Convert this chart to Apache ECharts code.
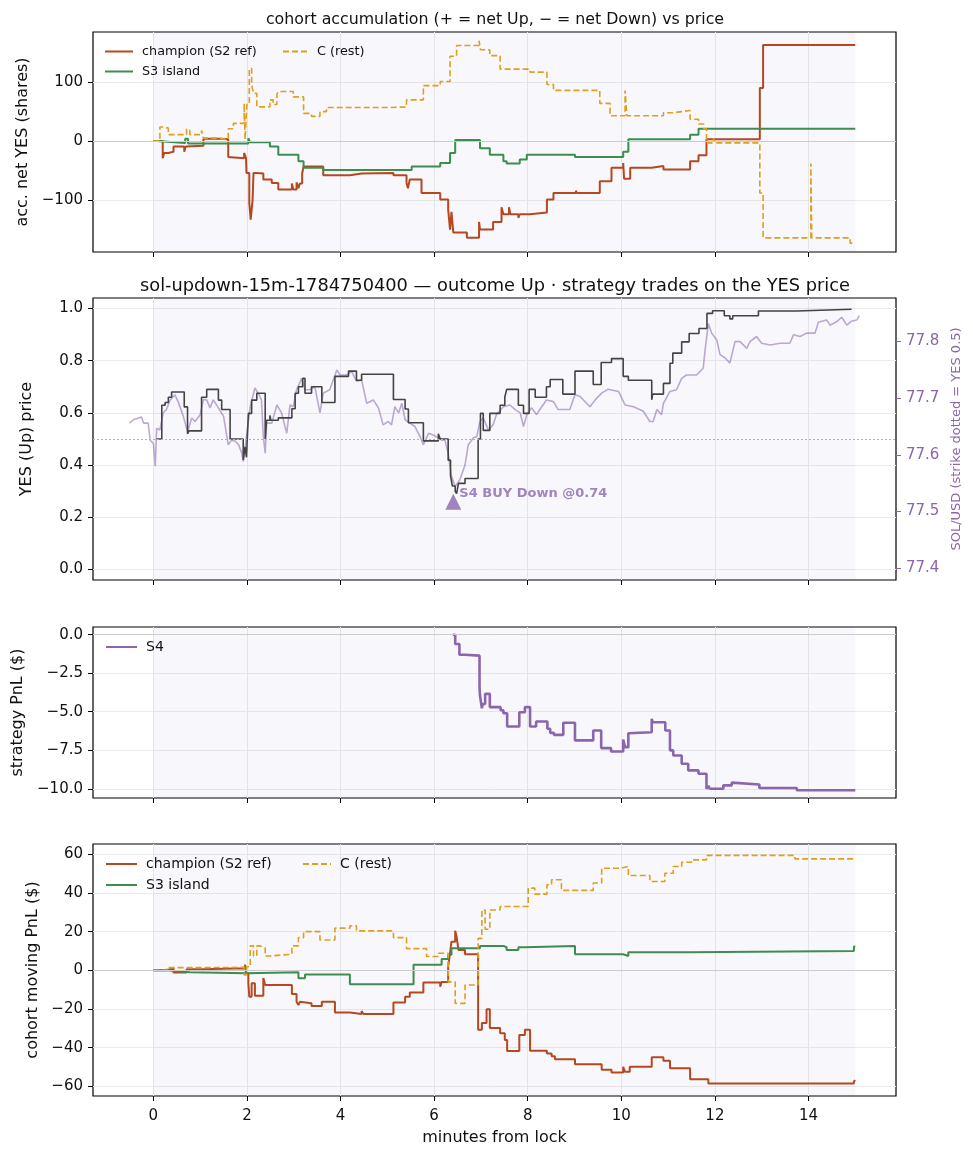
<!DOCTYPE html>
<html>
<head>
<meta charset="utf-8">
<script src="https://cdn.jsdelivr.net/npm/echarts@6/dist/echarts.min.js"></script>
<style>
  html, body { margin: 0; padding: 0; background: #fff; }
  #main { width: 973px; height: 1156px; }
</style>
</head>
<body>
<div id="main"></div>
<script>
// ticks
const xTicks = [0, 2, 4, 6, 8, 10, 12, 14]
const accTicks = [-100, 0, 100]
const yesTicks = [0, 0.2, 0.4, 0.6, 0.8, 1.0]
const solTicks = [77.4, 77.5, 77.6, 77.7, 77.8]
const pnlTicks = [0, -2.5, -5, -7.5, -10]
const cohortTicks = [-60, -40, -20, 0, 20, 40, 60]

// panel 1: accumulated net YES shares, [minutes, shares]
const champAcc = [[0,0],[0.2,-29],[0.23,-20],[0.32,-18],[0.43,-9],[0.66,-18],[0.69,-9],[0.71,-8],[1.07,4],[1.46,3],[1.6,-27],[1.64,-29],
  [1.94,-20],[1.98,-29],[1.99,-54],[2.05,-105],[2.08,-133],[2.12,-100],[2.14,-54],[2.21,-55],[2.35,-65],[2.53,-71],[2.67,-82],
  [2.96,-72],[2.99,-82],[3.06,-70],[3.1,-80],[3.13,-72],[3.18,-55],[3.21,-43],[3.63,-58],[4.2,-55],[4.45,-54],[5.13,-58],
  [5.41,-71],[5.44,-80],[5.48,-65],[5.73,-88],[6.13,-99],[6.3,-116],[6.34,-150],[6.37,-120],[6.41,-155],[6.7,-164],[6.96,-137],
  [6.98,-150],[7.26,-137],[7.44,-112],[7.48,-124],[7.6,-112],[7.63,-124],[7.8,-130],[7.83,-124],[8.05,-121],[8.41,-99],[8.55,-88],
  [9.03,-84],[9.05,-88],[9.54,-68],[9.79,-45],[10.04,-37],[10.06,-64],[10.19,-45],[10.65,-42],[10.9,-48],[11.47,-34],[11.65,-24],
  [11.82,3],[12.96,90],[13.03,163],[15.0,163]]
const s3Acc = [[0,0],[0.07,-3],[0.68,4],[0.74,-4],[2.03,5],[2.07,-2],[2.49,-9],[2.67,-23],[3.1,-34],[3.21,-45],[3.63,-49],[5.52,-43],
  [6.13,-37],[6.34,-20],[6.45,2],[6.98,-12],[7.19,-23],[7.48,-34],[7.55,-38],[7.83,-31],[7.98,-23],[9.01,-27],[10.04,-18],[10.15,3],
  [11.47,11],[11.65,21],[15.0,21]]
const restAcc = [[0,0],[0.14,24],[0.21,22],[0.32,11],[0.71,20],[0.78,11],[1.03,18],[1.07,5],[1.35,3],[1.6,21],[1.71,30],[1.94,64],
  [1.96,3],[2.0,64],[2.05,123],[2.1,95],[2.14,81],[2.21,58],[2.49,70],[2.56,62],[2.64,80],[2.67,84],[2.99,75],[3.21,47],[3.38,42],
  [3.56,50],[3.7,57],[5.06,58],[5.41,70],[5.77,94],[6.13,101],[6.34,144],[6.48,162],[6.96,170],[6.99,155],[7.19,145],[7.41,122],
  [8.05,117],[8.41,96],[8.55,86],[9.54,64],[9.76,43],[10.08,86],[10.12,43],[10.9,48],[11.11,50],[11.29,52],[11.47,37],[11.65,29],
  [11.76,21],[11.82,-3],[11.97,5],[12.0,-3],[12.96,-88],[13.03,-164],[14.05,-38],[14.07,-164],[14.89,-173],[15.0,-173]]

// panel 2: YES (Up) price and SOL/USD
const yesPrice = [[0.07,0.5],[0.18,0.629],[0.25,0.64],[0.32,0.66],[0.39,0.68],[0.66,0.623],[0.73,0.52],[0.76,0.531],[1.03,0.66],
  [1.14,0.69],[1.39,0.649],[1.46,0.613],[1.64,0.5],[1.92,0.42],[1.96,0.47],[1.99,0.43],[2.03,0.598],[2.1,0.649],[2.21,0.675],
  [2.39,0.5],[2.42,0.572],[2.49,0.59],[2.51,0.572],[2.67,0.581],[2.96,0.616],[3.03,0.675],[3.1,0.7],[3.19,0.732],[3.24,0.675],
  [3.38,0.7],[3.6,0.64],[3.88,0.74],[4.17,0.76],[4.34,0.725],[4.45,0.748],[5.13,0.651],[5.38,0.615],[5.45,0.562],[5.77,0.493],
  [6.09,0.52],[6.13,0.5],[6.3,0.419],[6.35,0.36],[6.39,0.32],[6.45,0.3],[6.48,0.291],[6.52,0.33],[6.66,0.349],[6.94,0.5],
  [6.99,0.598],[7.05,0.533],[7.19,0.598],[7.41,0.629],[7.51,0.66],[7.55,0.69],[7.8,0.629],[7.91,0.598],[8.03,0.69],[8.16,0.66],
  [8.4,0.7],[8.48,0.728],[8.75,0.672],[9.01,0.76],[9.4,0.709],[9.57,0.793],[9.79,0.808],[10.04,0.74],[10.15,0.725],[10.65,0.65],
  [10.67,0.672],[10.9,0.713],[11.04,0.79],[11.1,0.829],[11.29,0.872],[11.45,0.904],[11.66,0.923],[11.83,0.981],[11.95,0.991],
  [12.2,0.972],[12.32,0.96],[12.38,0.972],[12.93,0.99],[13.75,0.997],[14.92,0.997]]
const solPrice = [[-0.51,77.656],[-0.43,77.662],[-0.25,77.667],[-0.21,77.656],[-0.11,77.656],[-0.07,77.626],[0,77.62],[0.04,77.58],
  [0.07,77.647],[0.14,77.644],[0.21,77.674],[0.28,77.68],[0.36,77.697],[0.46,77.706],[0.53,77.694],[0.64,77.668],[0.73,77.641],
  [0.82,77.665],[0.89,77.659],[1.0,77.671],[1.07,77.698],[1.14,77.697],[1.21,77.683],[1.28,77.697],[1.39,77.683],[1.5,77.668],
  [1.6,77.618],[1.67,77.626],[1.75,77.624],[1.82,77.618],[1.89,77.603],[1.92,77.588],[1.99,77.632],[2.07,77.685],[2.17,77.718],
  [2.24,77.709],[2.31,77.697],[2.35,77.632],[2.39,77.603],[2.42,77.656],[2.53,77.656],[2.64,77.688],[2.74,77.674],[2.85,77.638],
  [2.92,77.688],[2.99,77.685],[3.06,77.715],[3.17,77.735],[3.24,77.715],[3.35,77.715],[3.45,77.721],[3.56,77.674],[3.63,77.709],
  [3.77,77.715],[3.92,77.75],[3.99,77.741],[4.13,77.741],[4.24,77.747],[4.34,77.73],[4.45,77.732],[4.56,77.691],[4.7,77.697],
  [4.81,77.683],[4.91,77.653],[5.02,77.659],[5.09,77.653],[5.16,77.685],[5.24,77.674],[5.31,77.691],[5.38,77.662],[5.48,77.656],
  [5.59,77.65],[5.7,77.632],[5.77,77.618],[5.88,77.638],[5.98,77.635],[6.09,77.63],[6.16,77.626],[6.23,77.626],[6.3,77.603],
  [6.37,77.562],[6.45,77.544],[6.55,77.556],[6.66,77.582],[6.73,77.618],[6.84,77.63],[6.91,77.632],[6.98,77.659],[7.05,77.665],
  [7.16,77.644],[7.26,77.653],[7.33,77.671],[7.48,77.685],[7.62,77.688],[7.73,77.68],[7.84,77.674],[7.91,77.65],[7.98,77.671],
  [8.08,77.683],[8.19,77.671],[8.26,77.68],[8.4,77.697],[8.55,77.694],[8.65,77.68],[8.9,77.68],[9.01,77.706],[9.12,77.703],
  [9.33,77.685],[9.44,77.697],[9.58,77.709],[9.72,77.716],[9.94,77.712],[10.08,77.688],[10.26,77.685],[10.47,77.677],[10.61,77.659],
  [10.68,77.659],[10.76,77.68],[10.86,77.671],[10.9,77.691],[11.04,77.712],[11.18,77.715],[11.29,77.735],[11.39,77.741],
  [11.61,77.741],[11.75,77.753],[11.79,77.785],[11.86,77.832],[11.93,77.815],[12.04,77.803],[12.11,77.777],[12.22,77.771],
  [12.32,77.762],[12.43,77.8],[12.54,77.8],[12.68,77.788],[12.75,77.8],[12.89,77.809],[13.0,77.797],[13.18,77.794],[13.39,77.797],
  [13.6,77.797],[13.68,77.812],[13.82,77.809],[13.96,77.815],[14.14,77.815],[14.21,77.834],[14.39,77.838],[14.46,77.829],
  [14.6,77.835],[14.71,77.843],[14.82,77.829],[14.92,77.836],[15.03,77.838],[15.09,77.846]]
const strike = 0.5
const tradeX = [6.41]
const tradePrice = [0.74]
const tradeLabel = ['S4 BUY Down @0.74']

// panel 3: strategy PnL
const s4Pnl = [[6.4,0],[6.45,-0.6],[6.54,-1.3],[6.66,-1.36],[6.97,-3.41],[6.98,-3.95],[7.02,-4.78],[7.04,-4.5],[7.09,-3.84],
  [7.19,-4.7],[7.42,-4.9],[7.48,-5.1],[7.56,-5.96],[7.82,-5.03],[7.94,-4.7],[8.05,-5.96],[8.18,-5.63],[8.42,-6.1],[8.48,-6.37],
  [8.56,-6.5],[8.76,-5.72],[9.01,-6.86],[9.4,-6.22],[9.57,-7.36],[9.78,-7.58],[10.04,-6.8],[10.08,-7.3],[10.15,-6.4],[10.19,-6.33],
  [10.65,-5.46],[10.67,-5.68],[10.94,-6.22],[11.04,-7.51],[11.11,-7.84],[11.29,-8.38],[11.43,-8.81],[11.65,-9.03],[11.82,-10.0],
  [11.86,-9.8],[11.89,-10.0],[12.18,-9.78],[12.36,-9.6],[12.39,-9.72],[12.95,-9.95],[13.75,-10.1],[15.0,-10.1]]

// panel 4: cohort moving PnL
const champPnl = [[0,0],[0.28,1],[0.43,-1.2],[0.71,0.5],[1.07,1],[1.96,3],[1.98,-1.5],[2.03,-6.7],[2.05,-13.7],[2.1,-6.7],
  [2.17,-13.2],[2.35,-4],[2.39,-7.6],[2.96,-12.3],[3.06,-16.3],[3.1,-18],[3.13,-16.3],[3.17,-17.1],[3.38,-18.5],[3.6,-16.3],
  [3.88,-21.8],[4.2,-22.6],[4.45,-21],[4.49,-22.6],[5.13,-16.6],[5.38,-13.7],[5.48,-11.5],[5.77,-6.3],[6.13,-8.5],[6.16,-6],
  [6.3,2],[6.34,8.8],[6.37,14.8],[6.45,20.5],[6.48,17.4],[6.52,10.5],[6.66,8.3],[6.94,-30.8],[7.02,-27.3],[7.12,-20.1],
  [7.19,-29.9],[7.41,-32.5],[7.51,-36],[7.56,-41.7],[7.82,-33.4],[7.94,-30.8],[8.05,-41.6],[8.41,-43],[8.51,-44.5],[8.58,-46],
  [9.01,-48.6],[9.58,-51.4],[9.79,-52.9],[10.04,-49.9],[10.08,-52.5],[10.18,-49.9],[10.65,-45],[10.9,-46.8],[11.04,-50.7],
  [11.47,-56.3],[11.86,-58.6],[14.97,-57.5],[15.0,-56.8]]
const s3Pnl = [[0,0],[0.3,-1],[0.78,-1.55],[1.99,-1],[3.1,-4.1],[3.24,-2.2],[4.2,-7.2],[5.56,2.8],[6.16,5.9],[6.3,8],[6.37,11.4],
  [6.98,12.6],[7.48,11.9],[7.55,10.5],[7.8,11.9],[7.94,12.6],[9.01,8.3],[10.04,7.4],[10.15,9.3],[11.47,10],[14.97,12.3],[15.0,12.3]]
const restPnl = [[0,0],[0.28,1.4],[1.07,1.5],[1.94,-2.4],[1.99,1.8],[2.07,12.6],[2.14,7.4],[2.21,12.6],[2.28,11.7],[2.39,7.4],
  [2.49,8.3],[2.96,12.6],[3.1,16.9],[3.21,20],[3.56,15.7],[3.88,21.8],[4.2,23],[4.34,20.4],[5.13,16.9],[5.41,11.2],[5.84,7.1],
  [6.09,8.8],[6.3,-6],[6.45,-17.1],[6.66,-7.6],[6.94,16.5],[7.02,31.2],[7.09,21.2],[7.19,31.2],[7.41,33],[8.01,42.5],[8.15,39.4],
  [8.41,44.2],[8.51,46.8],[8.72,41.3],[9.4,45.1],[9.58,52.8],[10.0,53.7],[10.15,49],[10.61,45.9],[10.93,50.2],[11.11,53.7],
  [11.29,55.9],[11.5,57.1],[11.82,59.4],[13.71,57.6],[15.0,57.6]]

const FONT = "DejaVu Sans"
const RUST = "#b5481f"
const GREEN = "#3c8d4f"
const GOLD = "#dea01e"
const PURPLE = "#8a66ad"
const INK = "#111"

const minus = (s) => String(s).replace("-", "\u2212")

const xAxisFor = (i, showLabel) => ({
  type: "value",
  gridIndex: i,
  min: -1.29,
  max: 15.87,
  axisLine: { show: false, onZero: false },
  axisTick: { show: true, length: 5, customValues: xTicks, lineStyle: { color: "#000" } },
  axisLabel: {
    show: showLabel,
    customValues: xTicks,
    margin: 13,
    color: INK,
    fontFamily: FONT,
    fontSize: 15,
  },
  splitLine: { show: true, lineStyle: { color: "#ebebeb", width: 1 } },
  name: showLabel ? "minutes from lock" : "",
  nameLocation: "middle",
  nameGap: 34,
  nameTextStyle: { color: INK, fontFamily: FONT, fontSize: 16 },
})

const yAxisFor = (grid, min, max, ticks, fmt, name, gap) => ({
  type: "value",
  gridIndex: grid,
  min: min,
  max: max,
  axisLine: { show: false, onZero: false },
  axisTick: { show: true, length: 5, customValues: ticks, lineStyle: { color: "#000" } },
  axisLabel: {
    customValues: ticks,
    margin: 10,
    color: INK,
    fontFamily: FONT,
    fontSize: 15,
    formatter: fmt,
  },
  splitLine: { show: true, lineStyle: { color: "#ebebeb", width: 1 } },
  name: name,
  nameLocation: "middle",
  nameRotate: 90,
  nameGap: gap,
  nameTextStyle: { color: INK, fontFamily: FONT, fontSize: 16 },
})

const shade = {
  silent: true,
  itemStyle: { color: "rgba(60,80,180,0.045)" },
  data: [[{ xAxis: 0 }, { xAxis: 15 }]],
}
const zeroLine = {
  silent: true,
  symbol: "none",
  label: { show: false },
  lineStyle: { color: "#cccccc", width: 1, type: "solid" },
  data: [{ yAxis: 0 }],
}

const stepLine = (name, data, xi, yi, color, width, dashed, extra) =>
  Object.assign(
    {
      name: name,
      type: "line",
      xAxisIndex: xi,
      yAxisIndex: yi,
      data: data,
      step: "end",
      symbol: "none",
      lineStyle: { color: color, width: width, type: dashed ? [6, 3] : "solid" },
      itemStyle: { color: color },
    },
    extra || {}
  )

const grid = (top, height) => ({
  left: 93,
  right: 77,
  top: top,
  height: height,
  show: true,
  borderColor: "#000",
  borderWidth: 1.2,
  backgroundColor: "#fff",
})

// legend boxes, line icon only (symbol hidden)
const legendBox = (names, left, top, size, iconW, gap) => ({
  data: names,
  orient: "vertical",
  left: left,
  top: top,
  padding: 0,
  itemWidth: iconW,
  itemHeight: 14,
  itemGap: gap,
  itemStyle: { opacity: 0 },
  textStyle: { color: INK, fontFamily: FONT, fontSize: size, padding: [0, 0, 0, 4] },
})

const option = {
  animation: false,
  backgroundColor: "#fff",
  title: [
    {
      text: "cohort accumulation (+ = net Up, \u2212 = net Down) vs price",
      left: 490,
      textAlign: "center",
      top: 7,
      textStyle: { color: INK, fontFamily: FONT, fontSize: 15.8, fontWeight: "normal" },
    },
    {
      text: "sol-updown-15m-1784750400 \u2014 outcome Up \u00b7 strategy trades on the YES price",
      left: 490,
      textAlign: "center",
      top: 272,
      textStyle: { color: INK, fontFamily: FONT, fontSize: 17.8, fontWeight: "normal" },
    },
  ],
  legend: [
    legendBox(["champion (S2 ref)", "S3 island"], 104, 45, 12.8, 28, 7),
    legendBox(["C (rest)"], 282, 45, 12.8, 25, 7),
    legendBox(["S4"], 105, 640, 14, 31, 7),
    legendBox(["champion (S2 ref)", "S3 island"], 105, 857, 14, 31, 7),
    legendBox(["C (rest)"], 302, 857, 14, 28, 7),
  ],
  grid: [grid(32, 220), grid(298, 282), grid(627, 171), grid(844, 252)],
  xAxis: [xAxisFor(0, false), xAxisFor(1, false), xAxisFor(2, false), xAxisFor(3, true)],
  yAxis: [
    yAxisFor(0, -188, 185, accTicks, (v) => minus(v), "acc. net YES (shares)", 57),
    yAxisFor(1, -0.04, 1.04, yesTicks, (v) => v.toFixed(1), "YES (Up) price", 58),
    Object.assign(yAxisFor(1, 77.379, 77.877, solTicks, (v) => v.toFixed(1), "SOL/USD (strike dotted = YES 0.5)", 52), {
      position: "right",
      splitLine: { show: false },
      axisTick: { show: true, length: 5, customValues: solTicks, lineStyle: { color: PURPLE } },
      axisLabel: { customValues: solTicks, margin: 10, color: PURPLE, fontFamily: FONT, fontSize: 15, formatter: (v) => v.toFixed(1) },
      nameTextStyle: { color: PURPLE, fontFamily: FONT, fontSize: 13 },
    }),
    yAxisFor(2, -10.6, 0.5, pnlTicks, (v) => minus(v.toFixed(1)), "strategy PnL ($)", 65),
    yAxisFor(3, -65, 65.3, cohortTicks, (v) => minus(v), "cohort moving PnL ($)", 50),
  ],
  series: [
    stepLine("champion (S2 ref)", champAcc, 0, 0, RUST, 2, false, { markArea: shade, markLine: zeroLine }),
    stepLine("S3 island", s3Acc, 0, 0, GREEN, 2, false),
    stepLine("C (rest)", restAcc, 0, 0, GOLD, 1.6, true),

    {
      name: "SOL/USD",
      type: "line",
      xAxisIndex: 1,
      yAxisIndex: 2,
      data: solPrice,
      symbol: "none",
      lineStyle: { color: "rgba(138,102,173,0.55)", width: 1.6 },
      markArea: shade,
    },
    stepLine("YES price", yesPrice, 1, 1, "#444", 1.6, false, {
      markLine: {
        silent: true,
        symbol: "none",
        label: { show: false },
        lineStyle: { color: "#b9a8d2", width: 1, type: [2, 2] },
        data: [{ yAxis: strike }],
      },
    }),
    {
      name: "S4 trade",
      type: "scatter",
      xAxisIndex: 1,
      yAxisIndex: 1,
      symbol: "triangle",
      symbolSize: 16,
      itemStyle: { color: PURPLE },
      data: tradeX.map((x, i) => [x, 1 - tradePrice[i]]),
      label: {
        show: true,
        position: "right",
        distance: -2,
        offset: [0, -8],
        formatter: (p) => tradeLabel[p.dataIndex],
        color: PURPLE,
        fontFamily: FONT,
        fontWeight: "bold",
        fontSize: 13,
      },
    },

    stepLine("S4", s4Pnl, 2, 3, PURPLE, 2.6, false, { markArea: shade, markLine: zeroLine }),

    stepLine("champion (S2 ref)", champPnl, 3, 4, RUST, 2, false, { markArea: shade, markLine: zeroLine }),
    stepLine("S3 island", s3Pnl, 3, 4, GREEN, 2, false),
    stepLine("C (rest)", restPnl, 3, 4, GOLD, 1.6, true),
  ],
}

const chart = echarts.init(document.getElementById("main"))
chart.setOption(option)
</script>
</body>
</html>
